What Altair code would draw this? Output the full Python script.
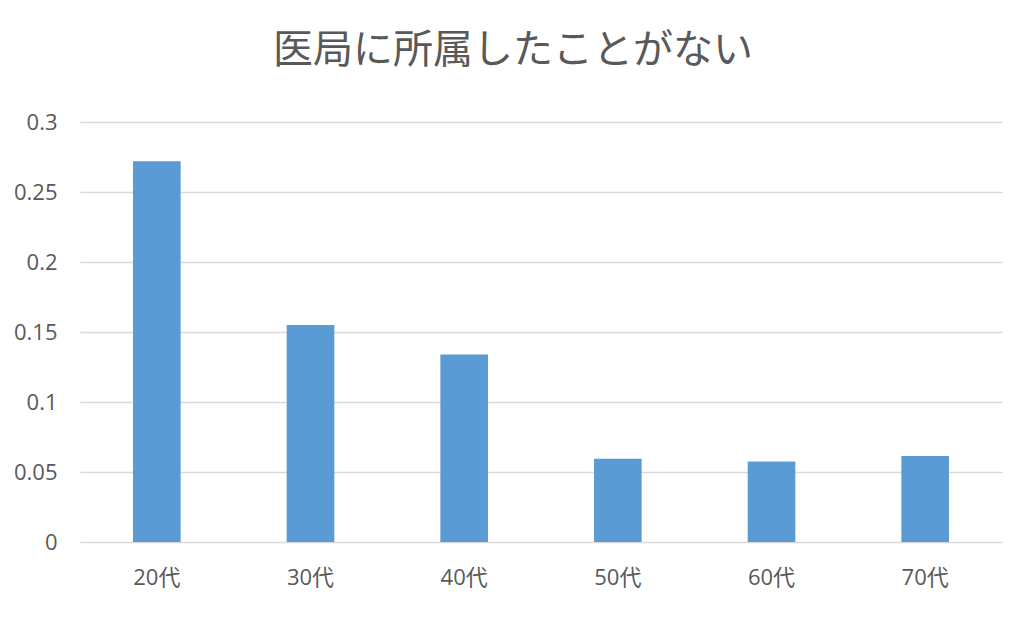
import altair as alt
import pandas as pd

categories = ["20代", "30代", "40代", "50代", "60代", "70代"]
values = [0.272, 0.155, 0.134, 0.0594, 0.0575, 0.0615]
y_ticks = [0, 0.05, 0.1, 0.15, 0.2, 0.25, 0.3]

df = pd.DataFrame({"age": categories, "value": values})

FONT = "'Open Sans', 'Noto Sans CJK JP', sans-serif"
TFONT = "Noto Sans CJK JP"

chart = alt.Chart(df).mark_bar(color="#5b9bd5").encode(
    x=alt.X("age:N", sort=categories, title=None,
            scale=alt.Scale(paddingInner=0.69, paddingOuter=0.345),
            axis=alt.Axis(labelAngle=0, labelFontSize=22, labelColor="#595959",
                          labelFont=FONT, ticks=False, domain=False,
                          labelPadding=25, grid=False)),
    y=alt.Y("value:Q", title=None,
            scale=alt.Scale(domain=[0, 0.3], nice=False),
            axis=alt.Axis(values=y_ticks, format="~g", labelFontSize=22,
                          labelColor="#595959",
                          labelFont=FONT, ticks=False, domain=False,
                          labelPadding=23, gridColor="#d9d9d9", gridWidth=1.5)),
).properties(
    width=922,
    height=420,
    title=alt.TitleParams("医局に所属したことがない", fontSize=40, font=TFONT,
                          fontWeight="normal", color="#595959", anchor="middle",
                          offset=40, dx=-28),
    autosize=alt.AutoSizeParams(type="none"),
    padding={"left": 72, "top": 114, "right": 19, "bottom": 60},
).configure_view(stroke=None)

chart.save("out.html", embed_options={"renderer": "svg", "actions": False})
